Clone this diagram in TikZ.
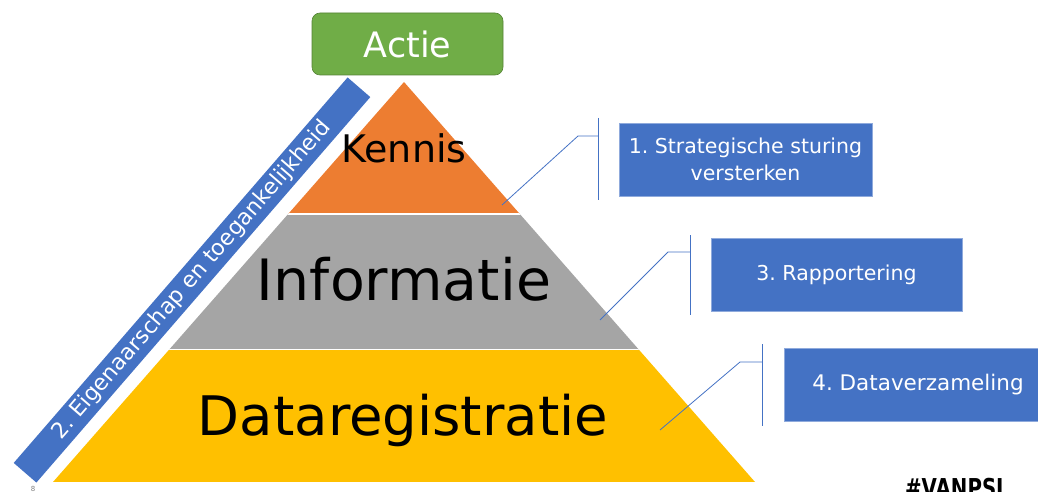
\documentclass[tikz,border=0pt]{standalone}
\usepackage{fontspec}
\setmainfont{DejaVu Sans}
\usepackage{xcolor}
\definecolor{kennisorange}{HTML}{ED7D31}
\definecolor{infogray}{HTML}{A5A5A5}
\definecolor{datayellow}{HTML}{FFC000}
\definecolor{actiegreen}{HTML}{70AD47}
\definecolor{actieedge}{HTML}{548235}
\definecolor{boxblue}{HTML}{4472C4}
\definecolor{boxedge}{HTML}{8FAADC}
\frenchspacing

\begin{document}
\begin{tikzpicture}[x=1pt,y=-1pt,
    bluebox/.style={fill=boxblue,draw=boxedge,line width=0.8pt,text=white,align=center,
      minimum height=73pt,inner sep=0pt,font=\fontsize{20.5}{27}\selectfont},
    callout/.style={draw=boxblue,line width=0.8pt},
    layertext/.style={anchor=base,inner sep=0pt,text=black}]
  \useasboundingbox (0,0) rectangle (1038,492);
  \clip (0,0) rectangle (1038,492);
  % Pyramid: three bands cut from one triangle
  \begin{scope}
    \clip (404,82) -- (755,482) -- (53,482) -- cycle;
    \fill[kennisorange] (0,0) rectangle (1038,214);
    \fill[infogray] (0,214) rectangle (1038,349.5);
    \fill[datayellow] (0,349.5) rectangle (1038,482);
    \draw[white,line width=1.6pt] (0,214) -- (1038,214);
    \draw[white,line width=1.6pt] (0,349.5) -- (1038,349.5);
  \end{scope}
  \node[layertext,font=\fontsize{38}{40}\selectfont] (kennis) at (404,162) {Kennis};
  \node[layertext,font=\fontsize{57}{60}\selectfont] (informatie) at (404,300) {Informatie};
  \node[layertext,font=\fontsize{54.5}{58}\selectfont] (dataregistratie) at (403,435) {Dataregistratie};
  % Actie on top
  \node[fill=actiegreen,draw=actieedge,line width=0.6pt,rounded corners=8pt,
    minimum width=191pt,minimum height=62pt,inner sep=0pt,text=white,
    font=\fontsize{35}{38}\selectfont] (actie) at (407.5,44) {Actie};
  % Diagonal bar along the left side
  \node[fill=boxblue,rotate=49.1,minimum width=510pt,minimum height=30pt,inner sep=0pt,
    text=white,font=\fontsize{22}{24}\selectfont] (eigenaar) at (192,280)
    {2. Eigenaarschap en toegankelijkheid};
  % Boxes on the right
  \node[bluebox,minimum width=253pt] (sturing) at (745.5,159.5) {1. Strategische sturing\\versterken};
  \node[bluebox,minimum width=251pt] (rapport) at (836.5,274.5) {3. Rapportering};
  \node[bluebox,minimum width=268pt,font=\fontsize{21.5}{27}\selectfont] (verzamel) at (918,384.5) {4. Dataverzameling};
  % Callout lines
  \coordinate (k-tip) at (502,205);
  \coordinate (k-bend) at (578,136);
  \coordinate (k-mid) at (598,136);
  \coordinate (k-top) at (598,118);
  \coordinate (k-bot) at (598,200);
  \draw[callout] (k-tip) -- (k-bend) -- (k-mid);
  \draw[callout] (k-top) -- (k-bot);
  \coordinate (i-tip) at (600,320);
  \coordinate (i-bend) at (668,252);
  \coordinate (i-mid) at (690,252);
  \coordinate (i-top) at (690,235);
  \coordinate (i-bot) at (690,315);
  \draw[callout] (i-tip) -- (i-bend) -- (i-mid);
  \draw[callout] (i-top) -- (i-bot);
  \coordinate (d-tip) at (660,430);
  \coordinate (d-bend) at (740,362);
  \coordinate (d-mid) at (762,362);
  \coordinate (d-top) at (762,344);
  \coordinate (d-bot) at (762,426);
  \draw[callout] (d-tip) -- (d-bend) -- (d-mid);
  \draw[callout] (d-top) -- (d-bot);
  % Footer bits
  \node[anchor=north west,inner sep=0pt,xscale=0.76,font=\fontsize{26}{28}\selectfont\bfseries] (tag) at (905,478) {\#VANPSI};
  \node[inner sep=0pt,text=gray,font=\fontsize{7}{8}\selectfont] (pagenr) at (33,489) {8};
\end{tikzpicture}
\end{document}
